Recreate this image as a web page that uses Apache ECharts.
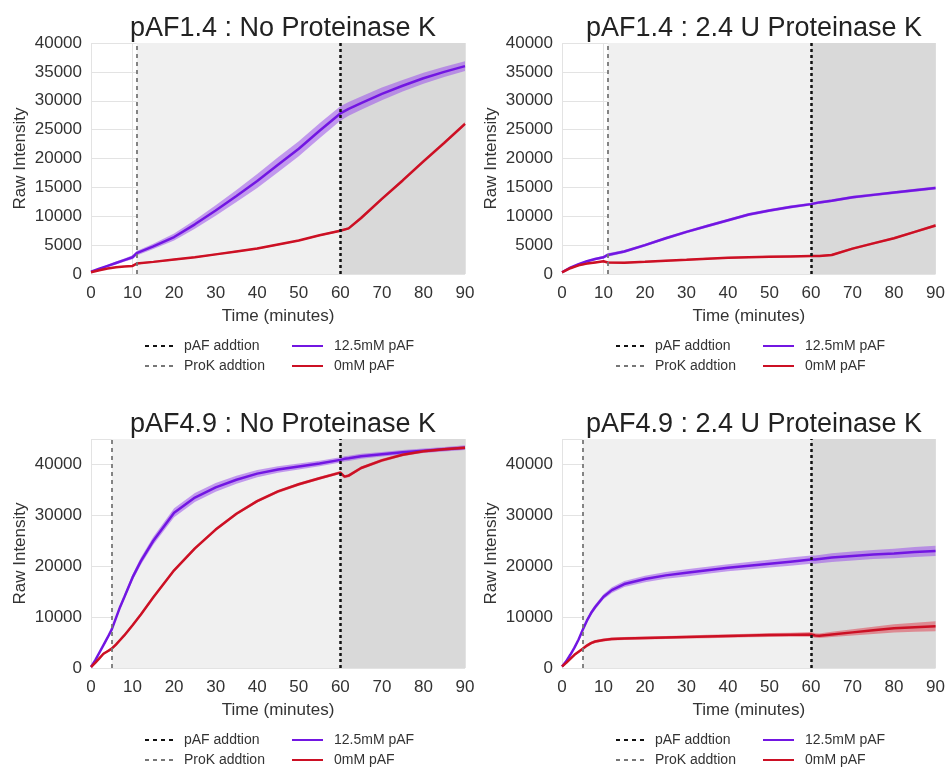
<!DOCTYPE html>
<html>
<head>
<meta charset="utf-8">
<script src="https://cdn.jsdelivr.net/npm/echarts@6/dist/echarts.min.js"></script>
<style>
  html, body { margin: 0; padding: 0; background: #fff; }
  #main { width: 948px; height: 767px; }
</style>
</head>
<body>
<div id="main"></div>
<script>
// time points (minutes)
const T1 = [0, 2, 4, 6, 8, 10, 11, 15, 20, 25, 30, 35, 40, 45, 50, 55, 60, 62, 65, 70, 75, 80, 85, 90];
const T2 = [0, 1, 2, 3, 4, 5, 6, 7, 8, 10, 12, 15, 20, 25, 30, 35, 40, 45, 50, 55, 60, 61, 62, 65, 70, 75, 80, 85, 90];

// pAF1.4 : No Proteinase K
const p1Purple = [400, 900, 1400, 1900, 2400, 2900, 3600, 4800, 6400, 8600, 11000, 13500, 16100, 18900, 21700, 24800, 27800, 28600, 29600, 31200, 32600, 33900, 35000, 36000];
const p1PurpleSd = [100, 150, 200, 250, 300, 350, 400, 450, 600, 750, 900, 1050, 1200, 1300, 1300, 1300, 1250, 1200, 1150, 1100, 1000, 950, 900, 850];
const p1Red = [300, 650, 950, 1150, 1300, 1400, 1800, 2100, 2500, 2900, 3400, 3900, 4400, 5100, 5800, 6700, 7500, 7900, 9700, 13000, 16200, 19500, 22700, 26000];
const p1RedSd = [100, 100, 100, 100, 100, 100, 150, 150, 150, 150, 150, 150, 150, 150, 150, 150, 200, 200, 250, 250, 250, 300, 300, 300];

// pAF1.4 : 2.4 U Proteinase K
const p2Purple = [300, 1100, 1700, 2200, 2600, 2900, 3300, 3900, 5000, 6200, 7300, 8300, 9300, 10300, 11000, 11600, 12100, 12400, 12700, 13300, 13700, 14100, 14500, 14900];
const p2PurpleSd = [100, 150, 150, 200, 200, 250, 300, 250, 250, 250, 250, 250, 250, 250, 250, 250, 250, 250, 250, 250, 250, 250, 250, 250];
const p2Red = [300, 1000, 1500, 1800, 2000, 2200, 2000, 1950, 2100, 2300, 2450, 2650, 2800, 2900, 3000, 3050, 3100, 3100, 3300, 4400, 5300, 6200, 7300, 8400];
const p2RedSd = [100, 100, 150, 150, 150, 150, 150, 150, 150, 150, 150, 150, 150, 150, 150, 150, 150, 150, 200, 200, 200, 200, 200, 250];

// pAF4.9 : No Proteinase K
const p3Purple = [200, 1500, 3000, 4500, 6000, 7600, 9800, 12000, 13900, 17800, 21000, 25000, 30500, 33500, 35500, 37000, 38200, 39000, 39600, 40200, 40900, 41100, 41200, 41600, 42000, 42400, 42700, 43000, 43300];
const p3PurpleSd = [100, 150, 200, 250, 300, 350, 400, 450, 500, 600, 700, 800, 900, 900, 850, 800, 700, 650, 600, 550, 500, 500, 500, 500, 450, 450, 450, 450, 450];
const p3Red = [200, 1000, 1900, 2800, 3300, 3800, 4600, 5500, 6400, 8400, 10500, 13900, 19200, 23500, 27200, 30300, 32800, 34700, 36100, 37300, 38400, 37600, 37800, 39300, 40800, 41900, 42600, 43000, 43300];
const p3RedSd = [100, 150, 200, 250, 250, 300, 300, 300, 300, 300, 300, 300, 300, 300, 300, 300, 300, 300, 300, 300, 300, 300, 300, 300, 300, 300, 300, 300, 300];

// pAF4.9 : 2.4 U Proteinase K
const p4Purple = [300, 1300, 2600, 4000, 5600, 7500, 9300, 10800, 12000, 14000, 15300, 16500, 17500, 18200, 18700, 19200, 19700, 20100, 20500, 20900, 21300, 21300, 21400, 21700, 22000, 22300, 22500, 22800, 23000];
const p4PurpleSd = [100, 150, 200, 250, 300, 350, 400, 450, 500, 500, 550, 600, 650, 650, 700, 700, 700, 750, 750, 800, 800, 800, 800, 850, 900, 900, 950, 1000, 1000];
const p4Red = [300, 1000, 1800, 2600, 3200, 3800, 4400, 4900, 5200, 5500, 5700, 5800, 5900, 6000, 6100, 6200, 6300, 6400, 6500, 6550, 6600, 6400, 6350, 6600, 7000, 7400, 7800, 8000, 8200];
const p4RedSd = [100, 150, 200, 250, 250, 300, 300, 300, 300, 300, 300, 300, 300, 300, 300, 350, 350, 350, 400, 400, 450, 450, 450, 500, 600, 700, 800, 900, 1000];

const titles = ['pAF1.4 : No Proteinase K', 'pAF1.4 : 2.4 U Proteinase K', 'pAF4.9 : No Proteinase K', 'pAF4.9 : 2.4 U Proteinase K'];
const prokTimes = [11, 11, 5, 5];
const pafTime = 60;
const xTicks = [0, 90, 10];
const yMaxes = [40000, 40000, 45000, 45000];
const yIntervals = [5000, 5000, 10000, 10000];
const legendNames = ['pAF addtion', 'ProK addtion', '12.5mM pAF', '0mM pAF'];

const panels = [
  { t: T1, purple: p1Purple, purpleSd: p1PurpleSd, red: p1Red, redSd: p1RedSd },
  { t: T1, purple: p2Purple, purpleSd: p2PurpleSd, red: p2Red, redSd: p2RedSd },
  { t: T2, purple: p3Purple, purpleSd: p3PurpleSd, red: p3Red, redSd: p3RedSd },
  { t: T2, purple: p4Purple, purpleSd: p4PurpleSd, red: p4Red, redSd: p4RedSd },
];

const FONT = 'Liberation Sans, Arial, sans-serif';
const PURPLE = '#7216e2';
const RED = '#cc1024';
const lefts = [91, 562, 91, 562];
const tops = [43, 43, 439, 439];
const heights = [231, 231, 229, 229];

let grid = [], xAxis = [], yAxis = [], title = [], legend = [], series = [];

// shaded band (mean +/- sd) drawn as one polygon through the axes
function bandSeries(i, t, mean, sd, color) {
  return {
    type: 'custom', xAxisIndex: i, yAxisIndex: i, silent: true, z: 2,
    data: t.map((x, k) => [x, mean[k] - sd[k], mean[k] + sd[k]]),
    encode: { x: 0, y: [1, 2] },
    renderItem: (params, api) => {
      if (params.dataIndex !== 0) return null;
      const pts = [];
      for (let k = 0; k < t.length; k++) pts.push(api.coord([t[k], mean[k] - sd[k]]));
      for (let k = t.length - 1; k >= 0; k--) pts.push(api.coord([t[k], mean[k] + sd[k]]));
      return { type: 'polygon', shape: { points: pts }, style: { fill: color } };
    }
  };
}

panels.forEach((p, i) => {
  grid.push({ left: lefts[i], top: tops[i], width: 374, height: heights[i] });
  title.push({
    text: titles[i], left: lefts[i] + 187, top: tops[i] - 33, textAlign: 'center',
    textStyle: { fontFamily: FONT, fontSize: 27, fontWeight: 'normal', color: '#222' }
  });
  xAxis.push({
    type: 'value', gridIndex: i, min: xTicks[0], max: xTicks[1], interval: xTicks[2],
    name: 'Time (minutes)', nameLocation: 'middle', nameGap: 34,
    nameTextStyle: { fontFamily: FONT, fontSize: 17, color: '#333' },
    axisLine: { show: false }, axisTick: { show: false },
    axisLabel: { fontFamily: FONT, fontSize: 17, color: '#333', margin: 11 },
    splitLine: { lineStyle: { color: '#e3e3e3', width: 1 } }, z: 1
  });
  yAxis.push({
    type: 'value', gridIndex: i, min: 0, max: yMaxes[i], interval: yIntervals[i],
    name: 'Raw Intensity', nameLocation: 'middle', nameGap: 62,
    nameTextStyle: { fontFamily: FONT, fontSize: 17, color: '#333' },
    axisLine: { show: false }, axisTick: { show: false },
    axisLabel: {
      fontFamily: FONT, fontSize: 17, color: '#333', margin: 9,
      formatter: v => (v % yIntervals[i] === 0 ? String(v) : '')
    },
    splitLine: { lineStyle: { color: '#e3e3e3', width: 1 } }, z: 1
  });

  // one legend per entry: two columns of two rows under each panel
  const legTop = tops[i] + heights[i] + 65;
  legendNames.forEach((name, n) => {
    legend.push({
      left: lefts[i] + (n < 2 ? 53 : 200), top: legTop + (n % 2) * 20,
      padding: 0, itemWidth: n < 2 ? 28 : 31, itemHeight: 14, selectedMode: false,
      itemStyle: { opacity: 0 },
      textStyle: { fontFamily: FONT, fontSize: 14, color: '#333', padding: [0, 0, 0, 6] },
      data: [name]
    });
  });

  // background shading behind the grid lines
  series.push({
    type: 'line', xAxisIndex: i, yAxisIndex: i, data: [], z: 0, silent: true,
    markArea: {
      silent: true,
      data: [
        [{ xAxis: prokTimes[i], itemStyle: { color: '#f0f0f0' } }, { xAxis: pafTime }],
        [{ xAxis: pafTime, itemStyle: { color: '#d9d9d9' } }, { xAxis: xTicks[1] }]
      ]
    }
  });

  series.push(bandSeries(i, p.t, p.purple, p.purpleSd, 'rgba(155, 80, 235, 0.55)'));
  series.push(bandSeries(i, p.t, p.red, p.redSd, 'rgba(225, 60, 75, 0.5)'));

  series.push({
    name: '12.5mM pAF', type: 'line', xAxisIndex: i, yAxisIndex: i, symbol: 'none', z: 3,
    lineStyle: { color: PURPLE, width: 2.5 }, itemStyle: { color: PURPLE },
    data: p.t.map((t, k) => [t, p.purple[k]])
  });
  series.push({
    name: '0mM pAF', type: 'line', xAxisIndex: i, yAxisIndex: i, symbol: 'none', z: 3,
    lineStyle: { color: RED, width: 2.5 }, itemStyle: { color: RED },
    data: p.t.map((t, k) => [t, p.red[k]])
  });

  // event lines
  series.push({
    name: 'ProK addtion', type: 'line', xAxisIndex: i, yAxisIndex: i, symbol: 'none', data: [], z: 4,
    lineStyle: { color: '#777', width: 2, type: [4, 4] }, itemStyle: { color: '#777' },
    markLine: {
      symbol: 'none', silent: true, label: { show: false },
      lineStyle: { color: '#777', width: 1.8, type: [4, 4] },
      data: [{ xAxis: prokTimes[i] }]
    }
  });
  series.push({
    name: 'pAF addtion', type: 'line', xAxisIndex: i, yAxisIndex: i, symbol: 'none', data: [], z: 4,
    lineStyle: { color: '#111', width: 2.5, type: [4, 4] }, itemStyle: { color: '#111' },
    markLine: {
      symbol: 'none', silent: true, label: { show: false },
      lineStyle: { color: '#111', width: 2.5, type: [3, 3] },
      data: [{ xAxis: pafTime }]
    }
  });
});

const chart = echarts.init(document.getElementById('main'));
chart.setOption({
  backgroundColor: '#fff',
  animation: false,
  title, grid, xAxis, yAxis, legend, series
});
</script>
</body>
</html>
